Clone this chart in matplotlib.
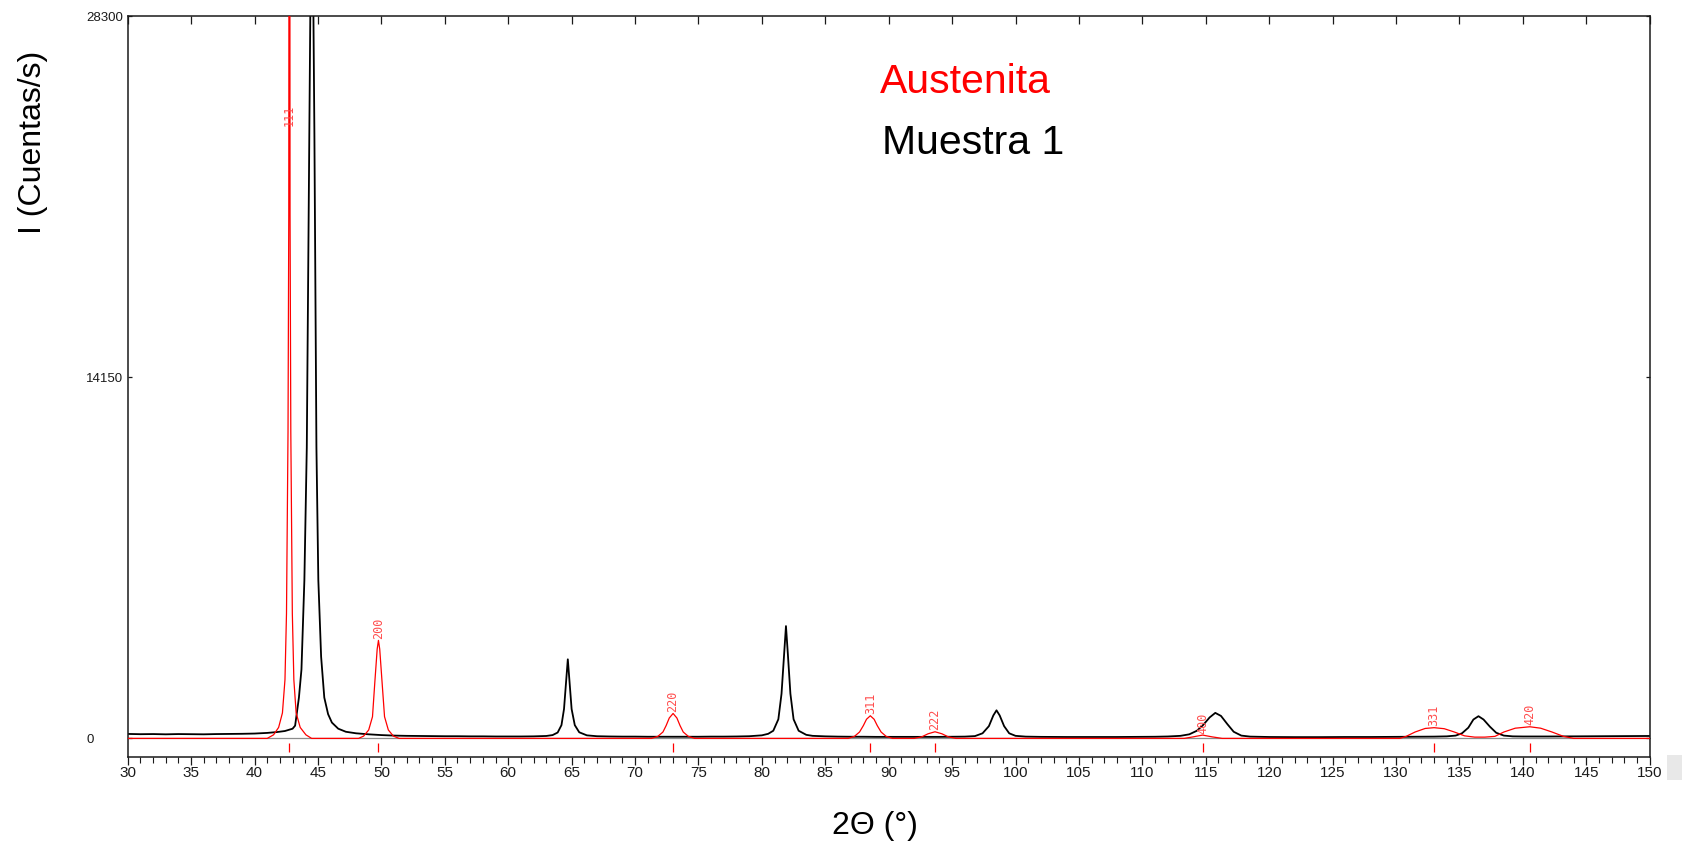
import matplotlib
matplotlib.use("Agg")
import matplotlib.pyplot as plt
from matplotlib.patches import Rectangle

plt.rcParams['font.family'] = ['Liberation Sans', 'DejaVu Sans']

# Measured diffractogram (Muestra 1): 2-theta in degrees, intensity in counts/s
two_theta_muestra = [
    30.0, 31.0, 32.0, 33.0, 34.0, 35.0, 36.0, 37.0, 38.0, 39.0, 40.0, 41.0, 41.8, 42.4, 43.0, 43.2,
    43.5, 43.7, 43.93, 44.12, 44.22, 44.32, 44.44, 44.52, 44.6, 44.72, 44.8, 44.88, 45.03, 45.25,
    45.5, 45.8, 46.1, 46.6, 47.2, 48.0, 49.0, 50.0, 51.0, 52.0, 53.0, 54.0, 55.0, 56.0, 57.0, 58.0,
    59.0, 60.0, 61.0, 62.0, 63.0, 63.5, 63.9, 64.2, 64.4, 64.55, 64.7, 64.85, 65.0, 65.25, 65.6,
    66.2, 67.0, 68.0, 69.0, 70.0, 71.0, 72.0, 73.0, 74.0, 75.0, 76.0, 77.0, 78.0, 79.0, 80.0, 80.5,
    80.9, 81.3, 81.55, 81.75, 81.9, 82.05, 82.25, 82.5, 82.9, 83.5, 84.0, 85.0, 86.0, 87.0, 88.0,
    89.0, 90.0, 91.0, 92.0, 93.0, 94.0, 95.0, 96.0, 96.8, 97.4, 97.9, 98.25, 98.5, 98.75, 99.1,
    99.5, 100.0, 100.8, 102.0, 104.0, 106.0, 108.0, 110.0, 111.0, 112.0, 113.0, 113.7, 114.3,
    114.8, 115.3, 115.75, 116.2, 116.7, 117.2, 117.8, 118.5, 120.0, 122.0, 124.0, 126.0, 128.0,
    130.0, 132.0, 133.0, 134.0, 134.7, 135.2, 135.7, 136.1, 136.5, 136.9, 137.4, 137.9, 138.5,
    139.2, 140.0, 142.0, 144.0, 146.0, 148.0, 150.0,
]
counts_muestra = [
    175, 165, 170, 160, 170, 165, 160, 170, 175, 180, 190, 215, 250, 290, 380, 500,
    1600, 2700, 6200, 11400, 17300, 23700, 31000, 33500, 31000, 23700, 17300, 11400, 6200, 3200,
    1600, 950, 620, 380, 260, 200, 160, 130, 110, 100, 95, 90, 85, 85, 80, 80,
    75, 75, 75, 80, 95, 130, 230, 520, 1150, 2150, 3100, 2150, 1150, 520, 240,
    120, 85, 75, 70, 70, 65, 65, 65, 65, 65, 70, 70, 75, 85, 120, 180,
    300, 750, 1750, 3300, 4400, 3300, 1750, 750, 300, 140, 100, 80, 70, 65, 65,
    60, 60, 60, 60, 60, 60, 65, 70, 90, 200, 480, 900, 1100, 900, 480,
    200, 100, 70, 60, 55, 55, 55, 60, 65, 75, 100, 160, 300,
    530, 820, 1000, 880, 560, 260, 110, 70, 55, 50, 50, 55, 55,
    60, 65, 70, 80, 110, 200, 420, 740, 870, 740, 460, 220, 110,
    80, 75, 75, 80, 85, 90, 95,
]

# Simulated austenite (FCC) reference pattern
two_theta_austenita = [
    30.0, 41.0, 41.5, 41.9, 42.2, 42.4, 42.52, 42.64, 42.7, 42.75, 42.8, 42.86, 42.98, 43.1,
    43.28, 43.6, 44.05, 44.5, 48.2, 48.6, 49.0, 49.3, 49.48, 49.67, 49.77, 49.87, 50.06, 50.25,
    50.55, 50.95, 51.4, 71.3, 71.8, 72.2, 72.45, 72.7, 73.0, 73.3, 73.55, 73.8, 74.2, 74.7,
    86.8, 87.3, 87.7, 88.0, 88.25, 88.55, 88.85, 89.1, 89.4, 89.8, 90.3, 92.0, 92.6, 93.1,
    93.65, 94.2, 94.7, 95.3, 113.3, 114.0, 114.75, 115.5, 116.3, 130.3, 130.8, 131.5, 132.3,
    133.0, 133.8, 134.6, 135.4, 136.2, 137.0, 137.8, 138.5, 139.4, 140.55, 141.4, 142.3, 143.2,
    144.0, 150.0,
]
counts_austenita = [
    0, 0, 140, 430, 1000, 2300, 4900, 12000, 20500, 60000, 20500, 12000, 4900, 2300,
    1000, 430, 140, 0, 0, 90, 330, 850, 2170, 3500, 3840, 3500, 2170, 850,
    330, 90, 0, 0, 80, 250, 500, 800, 977, 800, 500, 250, 80, 0,
    0, 80, 250, 500, 750, 887, 750, 500, 250, 80, 0, 0, 60, 180,
    260, 180, 60, 0, 0, 60, 130, 60, 0, 0, 80, 250, 390,
    420, 380, 250, 100, 50, 50, 80, 250, 400, 456, 400, 250, 80,
    0, 0,
]

# Reflection indices and positions of the reference pattern
hkl_labels = ["111", "200", "220", "311", "222", "400", "331", "420"]
hkl_positions = [42.75, 49.77, 73.0, 88.55, 93.65, 114.75, 133.0, 140.55]
hkl_label_counts = [23950, 3840, 977, 887, 260, 130, 420, 456]

x_major_ticks = list(range(30, 151, 5))
x_minor_ticks = list(range(30, 151, 1))
y_ticks = [0, 14150, 28300]

W, H = 1683, 850
fig = plt.figure(figsize=(W / 100, H / 100), dpi=100)
fig.patch.set_facecolor('white')

ax_left, ax_right, ax_top, ax_bottom = 127.7, 1649.7, 16.1, 756.7
ax = fig.add_axes([ax_left / W, 1 - ax_bottom / H,
                   (ax_right - ax_left) / W, (ax_bottom - ax_top) / H])

ax.axhline(0, color='#8c8c8c', lw=0.9, zorder=1)
ax.plot(two_theta_austenita, counts_austenita, color='#ff0000', lw=0.9, zorder=3)
ax.plot(two_theta_muestra, counts_muestra, color='black', lw=1.3, zorder=2)

# reference position markers below the baseline
ax.vlines(hkl_positions, -545, -170, color='#ff0000', lw=0.9, zorder=3)

for lab, pos, yv in zip(hkl_labels, hkl_positions, hkl_label_counts):
    ax.text(pos, yv + 60, lab, rotation=90, ha='center', va='bottom',
            fontsize=8.5, color='#ff4d4d', family='DejaVu Sans Mono', zorder=4)

ax.set_xlim(30, 150)
ax.set_ylim(-717, 28300)

for s in ax.spines.values():
    s.set_color('#1a1a1a')
    s.set_linewidth(1.1)

ax.set_xticks(x_major_ticks)
ax.set_xticks(x_minor_ticks, minor=True)
ax.tick_params(axis='x', which='major', direction='out', length=5.5, width=0.9,
               pad=1.5, labelsize=11, colors='#1a1a1a')
ax.tick_params(axis='x', which='minor', direction='out', length=4, width=0.8,
               colors='#1a1a1a')

ax.set_yticks(y_ticks)
ax.set_yticklabels([str(v) for v in y_ticks], ha='left')
ax.tick_params(axis='y', direction='in', length=3, width=0.9, left=True, right=True,
               pad=30, labelsize=9.5, colors='#1a1a1a')

top = ax.secondary_xaxis('top')
top.set_xticks(x_major_ticks)
top.tick_params(direction='in', length=5.5, width=0.9, labeltop=False, colors='#1a1a1a')
top.spines['top'].set_visible(False)

fig.text(33 / W, 1 - 142 / H, 'I (Cuentas/s)', rotation=90, ha='center', va='center',
         fontsize=23, color='black')
fig.text(875 / W, 1 - 826 / H, '2Θ (°)', ha='center', va='center',
         fontsize=23, color='black')

fig.text(880 / W, 1 - 93.4 / H, 'Austenita', ha='left', va='baseline',
         fontsize=29.5, color='#ff0000')
fig.text(882 / W, 1 - 153.5 / H, 'Muestra 1', ha='left', va='baseline',
         fontsize=29.5, color='black')

fig.patches.append(Rectangle((1667 / W, 1 - 780 / H), 16 / W, 25 / H,
                             transform=fig.transFigure, facecolor='#e8e8e8',
                             edgecolor='none'))

fig.savefig('out.png', dpi=100)
